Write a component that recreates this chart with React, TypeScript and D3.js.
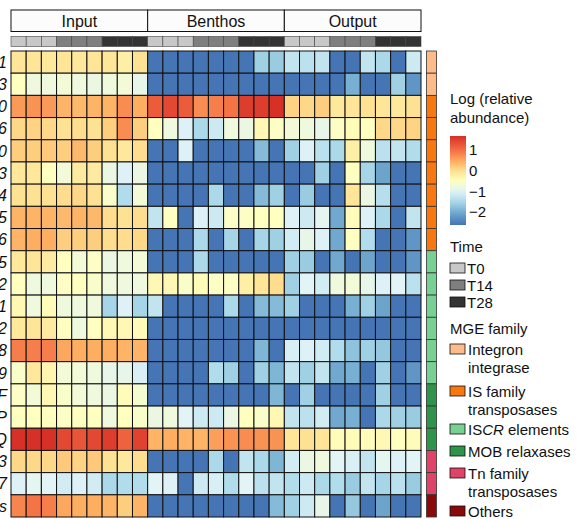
import * as d3 from 'd3'

// gene rows (only the tail of each label is visible in the figure)
const rowNames = [
  'intI1', 'intI3', 'IS1380', 'IS6', 'IS30', 'IS3', 'IS4', 'IS5', 'IS256',
  'ISCR5', 'ISCR2', 'ISCR1', 'ISCR22', 'ISCR8', 'ISCR9',
  'MOBF', 'MOBP', 'MOBQ', 'Tn3', 'Tn7', 'Others'
]

const rowFamily = [
  'Integron integrase', 'Integron integrase',
  'IS family transposases', 'IS family transposases', 'IS family transposases', 'IS family transposases',
  'IS family transposases', 'IS family transposases', 'IS family transposases',
  'ISCR elements', 'ISCR elements', 'ISCR elements', 'ISCR elements', 'ISCR elements', 'ISCR elements',
  'MOB relaxases', 'MOB relaxases', 'MOB relaxases',
  'Tn family transposases', 'Tn family transposases', 'Others'
]

const groups = ['Input', 'Benthos', 'Output']
const timepoints = ['T0', 'T14', 'T28']
const replicates = ['a', 'b', 'c']

// log relative abundance, rows x 9 samples (T0 x3, T14 x3, T28 x3)
const inputValues = [
  [-0.08, -0.08, -0.13, -0.08, -0.13, -0.08, -0.08, -0.24, -0.03],
  [-0.5, -0.76, -0.76, -0.71, -0.76, -0.82, -0.76, -0.71, -0.87],
  [0.62, 0.68, 0.62, 0.4, 0.35, 0.4, 0.4, 0.74, 0.45],
  [0.07, 0.12, 0.07, -0.03, 0.02, -0.03, 0.16, 0.74, 0.16],
  [0.16, 0.16, 0.21, 0.16, 0.35, 0.16, -0.03, -0.13, 0.02],
  [-0.13, -0.13, -0.5, -0.71, -0.18, -0.18, -0.82, -1.03, -0.82],
  [-0.03, -0.03, -0.03, 0.02, 0.07, -0.03, -0.6, -1.45, -0.71],
  [0.4, 0.4, 0.4, 0.35, 0.4, 0.35, 0.02, -0.03, 0.02],
  [0.4, 0.45, 0.45, 0.16, 0.16, 0.16, 0.02, 0.02, 0.07],
  [-0.13, -0.08, -0.18, -0.5, -0.71, -0.55, -0.82, -0.76, -0.71],
  [-0.5, -0.76, -0.76, -0.55, -0.5, -0.6, -0.76, -0.76, -0.76],
  [-0.39, -0.76, -0.45, -0.76, -0.76, -0.76, -1.55, -1.03, -1.55],
  [-0.13, -0.08, -0.18, -0.5, -0.76, -0.5, -0.39, -0.39, -0.45],
  [0.86, 0.86, 0.86, 0.51, 0.45, 0.45, 0.45, 0.4, 0.4],
  [-0.6, -0.13, -0.34, -0.71, -0.71, -0.76, -0.87, -0.87, -1.08],
  [-0.55, -0.71, -0.39, -0.6, -0.71, -0.76, -0.82, -0.45, -0.66],
  [-0.5, -0.5, -0.5, -0.55, -0.5, -0.5, -0.76, -0.5, -0.6],
  [1.68, 1.7, 1.68, 1.41, 1.27, 1.41, 1.54, 1.12, 1.48],
  [0.07, 0.07, 0.07, 0.21, 0.12, 0.21, -0.03, -0.13, 0.02],
  [-1.03, -0.92, -0.97, -1.13, -1.03, -1.13, -1.5, -1.45, -1.45],
  [0.8, 0.94, 0.86, 0.51, 0.45, 0.45, 0.4, 0.16, 0.4]
]

const benthosValues = [
  [-2.7, -2.7, -2.7, -2.7, -2.7, -2.7, -2.7, -1.6, -1.66],
  [-2.7, -2.7, -2.7, -2.7, -2.7, -2.7, -2.7, -2.7, -2.7],
  [1.19, 1.41, 1.19, 0.74, 0.86, 0.94, 1.54, 1.54, 1.68],
  [-0.5, -0.76, -1.03, -1.5, -1.18, -0.76, -0.82, -0.39, -0.55],
  [-2.7, -2.7, -1.03, -2.7, -2.7, -2.7, -2.7, -1.85, -2.7],
  [-2.7, -2.7, -2.7, -2.7, -2.7, -2.7, -2.7, -2.7, -2.7],
  [-2.7, -2.7, -2.7, -2.7, -1.5, -2.7, -2.7, -1.85, -1.6],
  [-1.29, -0.5, -2.7, -1.03, -1.18, -0.55, -0.55, -0.5, -0.5],
  [-2.7, -2.7, -2.7, -1.5, -2.7, -1.55, -2.7, -1.55, -1.6],
  [-2.7, -2.7, -2.7, -1.5, -2.7, -2.7, -2.7, -2.7, -2.7],
  [-0.39, -0.39, -0.6, -0.45, -0.55, -0.55, -0.24, -0.08, 0.02],
  [-1.29, -2.7, -2.7, -2.7, -2.7, -1.5, -2.7, -1.85, -1.85],
  [-2.7, -2.7, -2.7, -2.7, -2.7, -2.7, -2.7, -2.7, -2.7],
  [-2.7, -2.7, -2.7, -2.7, -2.7, -2.7, -2.7, -1.9, -2.7],
  [-2.7, -2.7, -2.7, -2.7, -1.45, -1.6, -2.7, -1.6, -1.9],
  [-2.7, -2.7, -2.7, -2.7, -2.7, -2.7, -2.7, -2.7, -1.9],
  [-0.82, -0.76, -0.97, -1.18, -1.18, -0.82, -0.5, -0.6, -0.39],
  [0.4, 0.45, 0.4, 0.4, 0.57, 0.68, 0.74, 0.68, 0.68],
  [-2.7, -2.7, -2.7, -2.7, -1.5, -2.7, -1.29, -1.5, -1.9],
  [-0.97, -1.03, -2.7, -1.18, -1.08, -1.45, -0.97, -1.34, -1.29],
  [-2.7, -2.7, -2.7, -2.7, -2.7, -2.7, -2.7, -2.7, -1.85]
]

const outputValues = [
  [-1.29, -1.34, -1.29, -2.7, -2.7, -1.29, -1.5, -2.7, -1.18],
  [-2.7, -2.7, -2.7, -2.7, -1.97, -2.7, -2.7, -1.6, -2.25],
  [0.12, 0.07, 0.16, -0.13, -0.08, -0.03, -0.08, -0.13, -0.03],
  [-0.71, -0.76, -0.87, -0.55, -0.45, -0.5, 0.07, 0.07, 0.12],
  [-1.6, -1.03, -1.34, -1.5, -0.24, -0.76, -1.34, -1.29, -1.45],
  [-2.7, -2.7, -1.6, -2.7, -0.5, -1.55, -2.1, -2.7, -2.7],
  [-2.7, -1.66, -2.7, -2.7, -0.08, -0.82, -1.4, -2.7, -2.7],
  [-1.03, -1.18, -0.92, -2.05, -0.45, -1.03, -1.5, -2.7, -1.29],
  [-1.13, -0.87, -1.03, -2.05, -0.5, -1.45, -2.7, -2.7, -2.25],
  [-1.6, -1.66, -2.7, -2.05, -2.7, -2.1, -2.7, -2.7, -2.25],
  [-1.6, -0.97, -1.13, -0.76, -0.71, -0.87, -1.03, -0.97, -1.34],
  [-1.6, -2.7, -2.7, -2.7, -1.97, -1.6, -2.1, -2.7, -2.7],
  [-2.7, -2.7, -2.7, -2.7, -2.7, -2.7, -2.7, -2.7, -2.7],
  [-1.08, -1.03, -1.13, -1.45, -1.76, -1.6, -1.7, -2.7, -2.7],
  [-1.29, -1.6, -1.29, -2.05, -1.97, -2.7, -1.6, -2.7, -2.25],
  [-2.7, -1.6, -2.7, -2.7, -2.7, -2.7, -1.6, -2.7, -2.7],
  [-1.29, -1.34, -1.13, -2.05, -1.97, -2.7, -1.5, -1.6, -1.66],
  [-0.08, -0.03, -0.08, -0.45, -0.45, -0.45, -0.39, -0.5, -0.45],
  [-1.13, -0.82, -0.76, -0.97, -1.08, -1.29, -0.92, -1.03, -0.97],
  [-1.45, -1.18, -1.5, -1.45, -1.66, -1.29, -1.55, -1.34, -1.66],
  [-1.6, -1.18, -0.87, -2.7, -1.7, -2.7, -2.1, -2.7, -2.7]
]

const colorStops = [-2.6, -2.0, -1.5, -1.0, -0.5, 0, 0.45, 1.0, 1.68]
const colorRange = ['#4575b4', '#74add1', '#abd9e9', '#e0f3f8', '#ffffbf', '#fee090', '#fdae61', '#f46d43', '#d73027']
const legendTicks = [1, 0, -1, -2]

const timeColors: Record<string, string> = { T0: '#c8c8c8', T14: '#7f7f7f', T28: '#333333' }
const familyNames = ['Integron integrase', 'IS family transposases', 'ISCR elements', 'MOB relaxases', 'Tn family transposases', 'Others']
const familyColors = ['#fdbb8a', '#f8780f', '#78d093', '#2e9449', '#df4468', '#8a0a0a']

const font = '"Liberation Sans", Arial, sans-serif'

export default function App() {
  const width = 579
  const height = 519

  const columns = groups.flatMap(g => timepoints.flatMap(t => replicates.map(r => ({ id: `${g}-${t}-${r}`, group: g, time: t }))))
  const groupValues: Record<string, number[][]> = { Input: inputValues, Benthos: benthosValues, Output: outputValues }

  const x = d3.scaleBand<string>().domain(columns.map(c => c.id)).range([11, 421])
  const y = d3.scaleBand<string>().domain(rowNames).range([51, 517])
  const color = d3.scaleLinear<string>().domain(colorStops).range(colorRange).clamp(true)
  const famColor = d3.scaleOrdinal<string, string>().domain(familyNames).range(familyColors)

  const cells = rowNames.flatMap((name, ri) =>
    columns.map((c, ci) => ({ name, col: c.id, v: groupValues[c.group][ri][ci % 9] }))
  )

  // colour bar
  const barY = d3.scaleLinear().domain([-2.63, 1.68]).range([225, 136])
  const gradStops = d3.range(0, 1.0001, 0.05).map(t => {
    const v = barY.invert(136 + t * 89)
    return { offset: t, c: color(v) }
  })

  const familyLegend = [
    { name: 'Integron integrase', lines: ['Integron', 'integrase'], y: 344 },
    { name: 'IS family transposases', lines: ['IS family', 'transposases'], y: 386 },
    { name: 'ISCR elements', lines: ['ISCR elements'], y: 424 },
    { name: 'MOB relaxases', lines: ['MOB relaxases'], y: 446 },
    { name: 'Tn family transposases', lines: ['Tn family', 'transposases'], y: 468 },
    { name: 'Others', lines: ['Others'], y: 506 }
  ]

  return (
    <svg width={width} height={height} style={{ position: 'absolute', left: 0, top: 0, background: '#fff' }} fontFamily={font}>
      <defs>
        <linearGradient id="cbar" x1="0" y1="0" x2="0" y2="1">
          {gradStops.map((s, i) => <stop key={i} offset={s.offset} stopColor={s.c} />)}
        </linearGradient>
      </defs>

      {/* group headers */}
      {groups.map(g => {
        const ids = columns.filter(c => c.group === g).map(c => c.id)
        const x0 = x(ids[0])!
        const x1 = x(ids[ids.length - 1])! + x.bandwidth()
        return (
          <g key={g}>
            <rect x={x0} y={10} width={x1 - x0} height={21.5} fill="#fcfcfc" stroke="#111" strokeWidth={1} />
            <text x={(x0 + x1) / 2} y={26.5} textAnchor="middle" fontSize={16} fill="#111">{g}</text>
          </g>
        )
      })}

      {/* time bar */}
      {columns.map(c => (
        <rect key={c.id} x={x(c.id)} y={36.5} width={x.bandwidth()} height={10} fill={timeColors[c.time]} stroke="#444" strokeWidth={0.6} />
      ))}

      {/* heat cells */}
      {cells.map(d => (
        <rect key={d.name + d.col} x={x(d.col)} y={y(d.name)} width={x.bandwidth()} height={y.bandwidth()}
          fill={color(d.v)} stroke="#111" strokeWidth={1} />
      ))}

      {/* row labels, clipped by the page edge */}
      {rowNames.map(n => (
        <text key={n} x={7} y={y(n)! + y.bandwidth() / 2} dy="0.36em" textAnchor="end" fontSize={16} fontStyle="italic" fill="#111">{n}</text>
      ))}

      {/* MGE family annotation */}
      {rowNames.map((n, i) => (
        <rect key={'a' + n} x={426.5} y={y(n)} width={10} height={y.bandwidth()} fill={famColor(rowFamily[i])} stroke="#333" strokeWidth={0.8} />
      ))}

      {/* colour legend */}
      <text x={450} y={104} fontSize={15} fill="#111">Log (relative</text>
      <text x={450} y={123} fontSize={15} fill="#111">abundance)</text>
      <rect x={450} y={136} width={16} height={89} fill="url(#cbar)" />
      {legendTicks.map(t => (
        <text key={t} x={469} y={barY(t)} dy="0.36em" fontSize={15} fill="#111">{t < 0 ? '\u2212' + Math.abs(t) : t}</text>
      ))}

      {/* time legend */}
      <text x={450} y={252} fontSize={15} fill="#111">Time</text>
      {timepoints.map((t, i) => (
        <g key={t}>
          <rect x={450} y={263 + i * 17} width={15} height={10} fill={timeColors[t]} stroke="#111" strokeWidth={0.8} />
          <text x={467} y={274 + i * 17} fontSize={15} fill="#111">{t}</text>
        </g>
      ))}

      {/* MGE family legend */}
      <text x={450} y={334} fontSize={15} fill="#111">MGE family</text>
      {familyLegend.map(f => (
        <g key={f.name}>
          <rect x={450} y={f.y} width={15} height={10} fill={famColor(f.name)} stroke="#111" strokeWidth={0.8} />
          {f.lines.map((l, i) => (
            <text key={l} x={468} y={f.y + 11 + i * 18} fontSize={15} fill="#111">
              {l === 'ISCR elements' ? <>IS<tspan fontStyle="italic">CR</tspan> elements</> : l}
            </text>
          ))}
        </g>
      ))}
    </svg>
  )
}
